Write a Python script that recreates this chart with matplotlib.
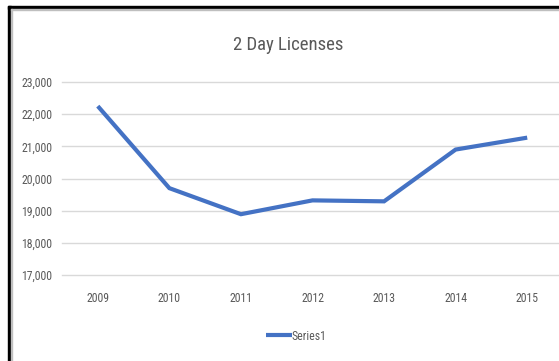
import matplotlib.pyplot as plt
from matplotlib.patches import Rectangle
from matplotlib.ticker import FuncFormatter

# Data
years = ["2009", "2010", "2011", "2012", "2013", "2014", "2015"]
licenses = [22250, 19700, 18890, 19320, 19290, 20900, 21270]
y_ticks = [17000, 18000, 19000, 20000, 21000, 22000, 23000]

plt.rcParams['font.family'] = ['Roboto Condensed', 'Liberation Sans Narrow', 'Liberation Sans']

W, H = 559, 361
fig = plt.figure(figsize=(W / 100, H / 100), dpi=100)

# plot area in pixel terms -> figure fraction
left, right = 62 / W, 563 / W
top, bottom = 1 - 82 / H, 1 - 275 / H
ax = fig.add_axes([left, bottom, right - left, top - bottom])

x = list(range(len(years)))
ax.plot(x, licenses, color='#4472C4', linewidth=3, label='Series1',
        solid_capstyle='butt', solid_joinstyle='miter')

ax.set_xlim(-0.5, len(years) - 0.5)
ax.set_ylim(17000, 23000)
ax.set_yticks(y_ticks)
ax.yaxis.set_major_formatter(FuncFormatter(lambda v, p: f"{int(v):,}"))
ax.set_xticks(x)
ax.set_xticklabels(years)
ax.grid(axis='y', color='#d9d9d9', linewidth=1)
for gl in ax.get_ygridlines():
    gl.set_clip_on(False)
ax.set_axisbelow(True)
for s in ax.spines.values():
    s.set_visible(False)
ax.tick_params(axis='both', length=0, labelsize=8.5, colors='#595959')
ax.tick_params(axis='y', pad=7)
ax.tick_params(axis='x', pad=12)

fig.text(288 / W, 1 - 45 / H, "2 Day Licenses", ha='center', va='center',
         fontsize=13.5, color='#595959')

leg = fig.legend(loc='center', bbox_to_anchor=(296 / W, 1 - 336 / H),
                 frameon=False, fontsize=8.5, handlelength=2.2,
                 handletextpad=0.0, labelcolor='#595959')

# black screenshot border on left and top
fig.patches.append(Rectangle((8 / W, 0), 3 / W, 1 - 6 / H, transform=fig.transFigure,
                             color='black', zorder=10))
fig.patches.append(Rectangle((8 / W, 1 - 9 / H), 1, 3 / H, transform=fig.transFigure,
                             color='black', zorder=10))
fig.patches.append(Rectangle((11 / W, 0), 1 / W, 1 - 9 / H, transform=fig.transFigure,
                             color='#bfbfbf', zorder=10))
fig.patches.append(Rectangle((11 / W, 1 - 10 / H), 1, 1 / H, transform=fig.transFigure,
                             color='#bfbfbf', zorder=10))

fig.savefig('out.png', dpi=100)
